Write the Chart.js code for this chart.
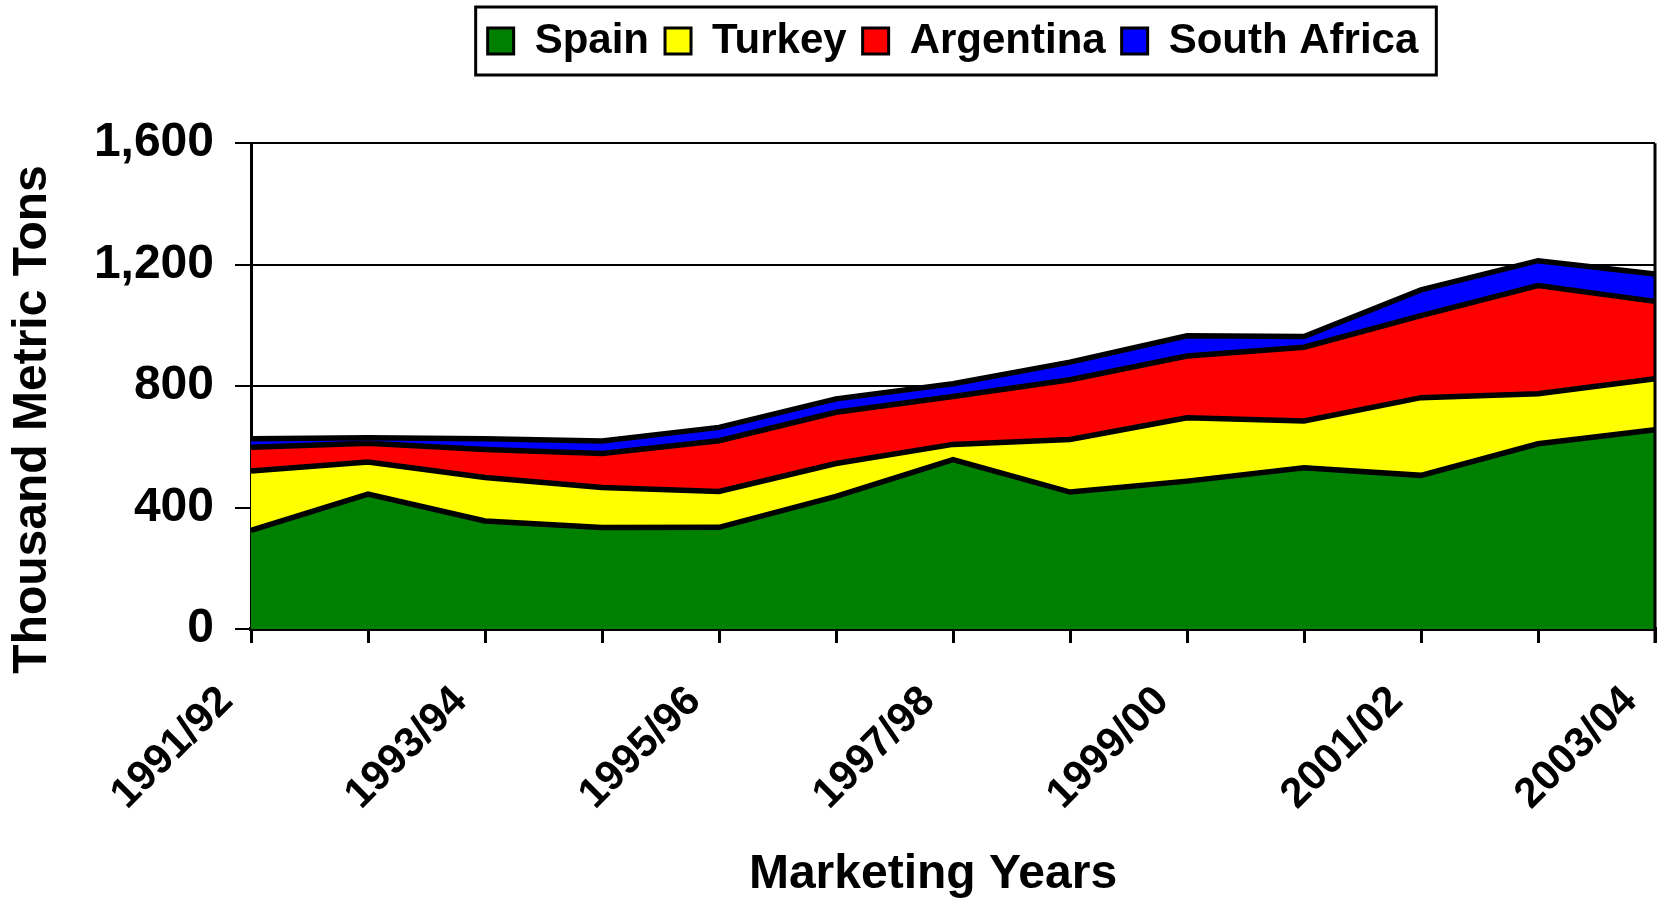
<!DOCTYPE html>
<html>
<head>
<meta charset="utf-8">
<script src="https://cdn.jsdelivr.net/npm/chart.js@4"></script>
<style>
  body { margin: 0; background: #fff; }
</style>
</head>
<body>
<canvas id="area-chart" width="1660" height="906"></canvas>
<script>
// marketing years (every other one gets a label on the axis)
const years = ['1991/92', '1992/93', '1993/94', '1994/95', '1995/96', '1996/97', '1997/98',
               '1998/99', '1999/00', '2000/01', '2001/02', '2002/03', '2003/04'];

// thousand metric tons
const spain       = [325, 444, 356, 334, 335, 437, 558, 451, 487, 531, 506, 610, 656];
const turkey      = [195, 106, 143, 132, 118, 108,  50, 173, 209, 154, 256, 165, 168];
const argentina   = [ 79,  62,  92, 112, 167, 169, 158, 197, 203, 243, 270, 356, 255];
const southAfrica = [ 28,  18,  36,  41,  44,  44,  42,  58,  67,  35,  85,  82,  90];

const yMin = 0;
const yMax = 1600;
const yStep = 400;

const FONT = '"Liberation Sans", Arial, sans-serif';

function getColor(country) {
    if (country === 'Spain') return '#008000';
    if (country === 'Turkey') return '#ffff00';
    if (country === 'Argentina') return '#ff0000';
    if (country === 'South Africa') return '#0000ff';
}

function makeDataset(label, values, fill) {
    return {
        label: label,
        data: values,
        fill: fill,
        backgroundColor: getColor(label),
        borderColor: '#000',
        borderWidth: 5.5,
        pointRadius: 0,
        tension: 0
    };
}

// right edge of the plot frame + box round the legend
const framePlugin = {
    id: 'frame',
    afterDatasetsDraw(chart) {
        const { ctx, chartArea } = chart;
        ctx.save();
        ctx.strokeStyle = '#000';
        ctx.lineWidth = 3;
        ctx.beginPath();
        ctx.moveTo(chartArea.right, chartArea.top);
        ctx.lineTo(chartArea.right, chartArea.bottom + 14);
        ctx.stroke();
        ctx.restore();
    },
    afterDraw(chart) {
        const boxes = chart.legend.legendHitBoxes;
        if (!boxes || !boxes.length) return;
        let left = Infinity, right = -Infinity, top = Infinity, bottom = -Infinity;
        boxes.forEach(b => {
            left = Math.min(left, b.left);
            right = Math.max(right, b.left + b.width);
            top = Math.min(top, b.top);
            bottom = Math.max(bottom, b.top + b.height);
        });
        const ctx = chart.ctx;
        ctx.save();
        ctx.strokeStyle = '#000';
        ctx.lineWidth = 3;
        ctx.strokeRect(left - 12, top - 13, right - left + 30, bottom - top + 26);
        ctx.restore();
    }
};

new Chart(document.querySelector('#area-chart').getContext('2d'), {
    type: 'line',
    data: {
        labels: years,
        datasets: [
            makeDataset('Spain', spain, 'origin'),
            makeDataset('Turkey', turkey, '-1'),
            makeDataset('Argentina', argentina, '-1'),
            makeDataset('South Africa', southAfrica, '-1')
        ]
    },
    options: {
        responsive: false,
        animation: false,
        layout: { padding: { top: 4, right: 5, bottom: 0, left: 0 } },
        plugins: {
            legend: {
                position: 'top',
                fullSize: false,
                weight: 3000,
                labels: {
                    color: '#000',
                    boxWidth: 26,
                    boxHeight: 26,
                    padding: 16,
                    font: { family: FONT, size: 42, weight: 'bold' },
                    generateLabels(chart) {
                        const items = Chart.defaults.plugins.legend.labels.generateLabels(chart);
                        items.forEach(item => { item.lineWidth = 3; });
                        return items;
                    }
                }
            },
            // empty spacer between legend and plot
            title: {
                display: true,
                text: ' ',
                fullSize: false,
                position: 'top',
                font: { size: 1 },
                padding: { top: 70, bottom: 0 }
            },
            tooltip: { enabled: false }
        },
        scales: {
            x: {
                offset: false,
                grid: {
                    display: true,
                    drawOnChartArea: false,
                    color: '#000',
                    lineWidth: 3,
                    tickLength: 14
                },
                border: { display: true, color: '#000', width: 4 },
                ticks: {
                    autoSkip: false,
                    minRotation: 45,
                    maxRotation: 45,
                    padding: 9,
                    color: '#000',
                    font: { family: FONT, size: 42, weight: 'bold' },
                    // trailing blanks push the rotated text away from the tick
                    callback: (value, index) => index % 2 === 0 ? years[index] + '   ' : ''
                },
                title: {
                    display: true,
                    text: 'Marketing Years   ',
                    color: '#000',
                    font: { family: FONT, size: 48, weight: 'bold' },
                    padding: { top: 0, bottom: 2 }
                },
                afterFit(scale) {
                    scale.height = 277;
                    scale.paddingRight = 0;
                }
            },
            y: {
                stacked: true,
                min: yMin,
                max: yMax,
                grid: {
                    color: '#000',
                    lineWidth: 2,
                    tickLength: 16
                },
                border: { display: true, color: '#000', width: 3 },
                ticks: {
                    stepSize: yStep,
                    padding: 21,
                    color: '#000',
                    font: { family: FONT, size: 48, weight: 'bold' },
                    callback: value => value.toLocaleString('en-US')
                },
                title: {
                    display: true,
                    text: 'Thousand Metric Tons     ',
                    color: '#000',
                    font: { family: FONT, size: 48, weight: 'bold' },
                    padding: { top: 4, bottom: 0 }
                },
                afterFit(scale) {
                    scale.width = 251;
                }
            }
        }
    },
    plugins: [framePlugin]
});
</script>
</body>
</html>
